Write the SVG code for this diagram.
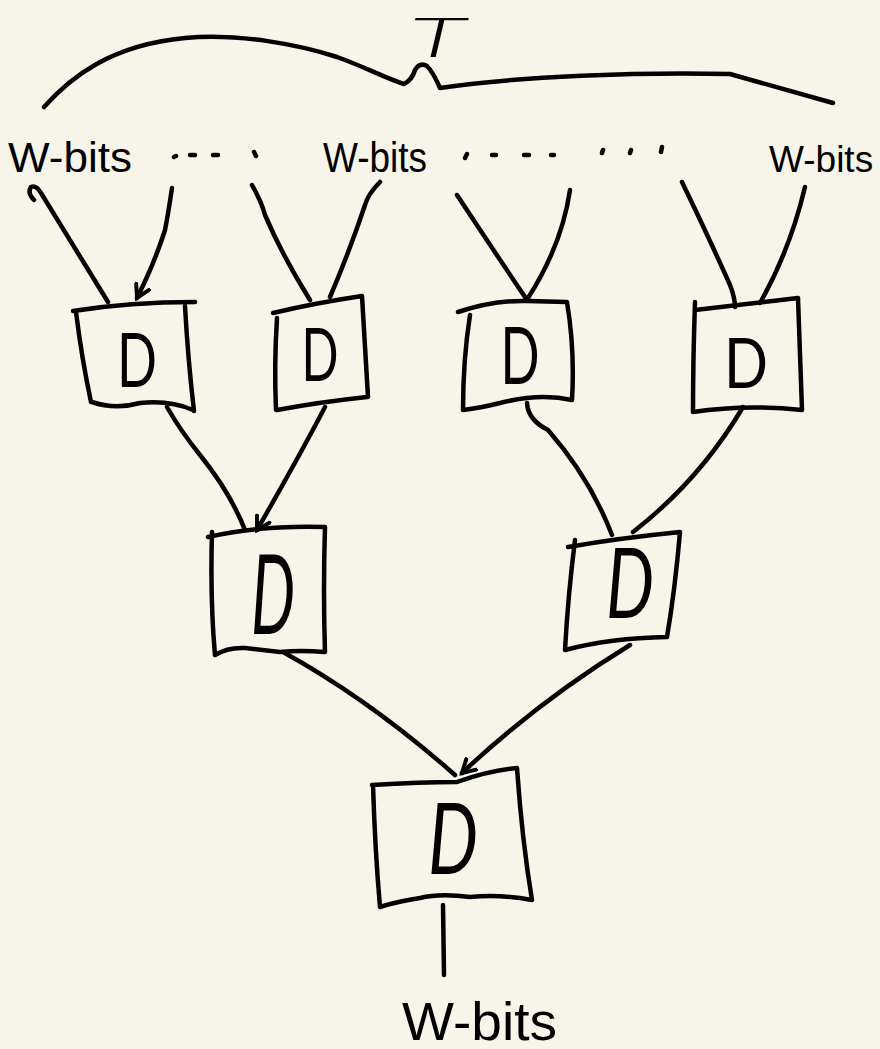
<svg xmlns="http://www.w3.org/2000/svg" width="880" height="1049" viewBox="0 0 880 1049">
  <style>
    .ink { fill: none; stroke: #000; stroke-width: 4.5; stroke-linecap: round; stroke-linejoin: round; }
    .lbl { font-family: "Liberation Sans Narrow", "Liberation Sans", sans-serif; fill: #000; }
    .dee { font-family: Lato, "Open Sans", sans-serif; font-weight: 400; fill: #000; text-anchor: middle; }
    .dee.it { font-style: italic; }
    .dee.thin { font-weight: 300; }
  </style>
  <defs>
    <marker id="tip" viewBox="0 0 10 10" refX="8" refY="5" markerWidth="4" markerHeight="4" orient="auto">
      <path d="M1,1 L8,5 L1,9" fill="none" stroke="#000" stroke-width="2.2" stroke-linecap="round"/>
    </marker>
  </defs>

  <rect width="880" height="1049" fill="#F7F5EA"/>

  <!-- span brace with its label -->
  <g id="brace">
    <path class="ink" d="M44,107 C70,78 110,45 185,38 C240,33 300,45 337,57 C365,67 385,78 404,84 Q412,80 415,70 Q420,62 427,66 Q433,72 440,88 C520,76 640,72 730,74 Q780,88 833,103"/>
    <text class="dee it thin" x="437" y="57" font-size="56" textLength="56" lengthAdjust="spacingAndGlyphs">T</text>
  </g>

  <!-- input labels -->
  <g id="inputs">
    <text class="lbl" x="8" y="172" font-size="42" textLength="124" lengthAdjust="spacingAndGlyphs">W-bits</text>
    <text class="lbl" x="323" y="172" font-size="42" textLength="104" lengthAdjust="spacingAndGlyphs">W-bits</text>
    <text class="lbl" x="769" y="172" font-size="37">W-bits</text>
    <path class="ink" stroke-width="3.5" d="M174,157 L176,156 M190,155 L195,155 M213,155 L218,155 M254,152 L256,156 M465,158 L467,154 M492,155 L496,155 M524,155 L529,155 M551,155 L554,155 M602,153 L603,150 M630,153 L631,150 M661,152 L662,147"/>
  </g>

  <!-- first-level D units -->
  <g id="d1">
    <path class="ink" d="M73,311 Q130,302 195,302 M185,306 Q188,360 194,411 M92,402 Q115,410 140,403 Q170,400 193,410 M76,312 Q82,360 91,402"/>
    <text class="dee" x="137" y="387" font-size="75" textLength="40" lengthAdjust="spacingAndGlyphs">D</text>
  </g>
  <g id="d2">
    <path class="ink" d="M273,313 Q315,303 362,296 Q365,345 368,397 M367,397 Q320,402 277,410 M277,318 Q274,365 276,410"/>
    <text class="dee" x="320" y="381" font-size="74" textLength="37" lengthAdjust="spacingAndGlyphs">D</text>
  </g>
  <g id="d3">
    <path class="ink" d="M458,312 Q495,300 527,301 L567,302 Q575,350 572,400 Q540,393 500,403 Q480,408 463,410 M470,315 Q463,360 463,410"/>
    <text class="dee" x="520" y="384" font-size="79" textLength="39" lengthAdjust="spacingAndGlyphs">D</text>
  </g>
  <g id="d4">
    <path class="ink" d="M695,310 L798,298 Q800,355 802,410 Q745,404 693,412 M695,302 Q693,360 693,412"/>
    <text class="dee" x="746" y="388" font-size="70" textLength="44" lengthAdjust="spacingAndGlyphs">D</text>
  </g>

  <!-- second-level D units -->
  <g id="d5">
    <path class="ink" d="M208,537 Q260,525 325,527 Q323,590 325,652 Q300,650 280,652 Q262,650 245,648 Q228,647 215,655 M212,532 Q210,600 215,655"/>
    <text class="dee it" x="273" y="634" font-size="110" textLength="44" lengthAdjust="spacingAndGlyphs">D</text>
  </g>
  <g id="d6">
    <path class="ink" d="M568,547 Q620,538 680,532 Q675,590 667,637 Q610,638 565,650 M575,540 Q568,595 565,650"/>
    <text class="dee it" x="630" y="618" font-size="97" textLength="48" lengthAdjust="spacingAndGlyphs">D</text>
  </g>

  <!-- root D unit -->
  <g id="d7">
    <path class="ink" d="M372,785 Q420,782 457,782 Q490,770 517,768 Q522,840 532,900 Q500,894 470,897 Q440,893 420,898 Q395,902 380,907 M373,785 Q375,850 380,907"/>
    <text class="dee it" x="453" y="874" font-size="99" textLength="50" lengthAdjust="spacingAndGlyphs">D</text>
  </g>

  <!-- output label -->
  <g id="output">
    <text class="lbl" x="402" y="1040" font-size="54" textLength="155" lengthAdjust="spacingAndGlyphs">W-bits</text>
  </g>

  <!-- wires -->
  <g id="connectors">
    <path class="ink" d="M34,200 Q27,193 31,187 Q36,185 41,193 L108,302"/>
    <path class="ink" marker-end="url(#tip)" d="M172,188 Q168,215 165,230 Q155,262 137,298"/>
    <path class="ink" d="M252,185 Q262,203 265,215 Q282,255 310,300"/>
    <path class="ink" d="M380,182 Q368,194 365,205 Q350,250 330,297"/>
    <path class="ink" d="M457,195 Q490,245 525,297"/>
    <path class="ink" d="M570,190 Q562,245 528,298"/>
    <path class="ink" d="M682,182 Q710,240 730,285 Q735,298 735,307"/>
    <path class="ink" d="M805,187 Q790,250 760,303"/>
    <path class="ink" d="M167,407 Q180,430 200,455 Q230,492 245,530"/>
    <path class="ink" marker-end="url(#tip)" d="M325,407 Q300,455 257,530"/>
    <path class="ink" d="M527,403 Q528,420 548,430 Q590,478 612,535"/>
    <path class="ink" d="M743,407 Q700,480 633,532"/>
    <path class="ink" d="M283,652 Q370,700 455,775"/>
    <path class="ink" marker-end="url(#tip)" d="M630,645 Q540,700 462,773"/>
    <path class="ink" d="M443,905 L444,975"/>
  </g>
</svg>
